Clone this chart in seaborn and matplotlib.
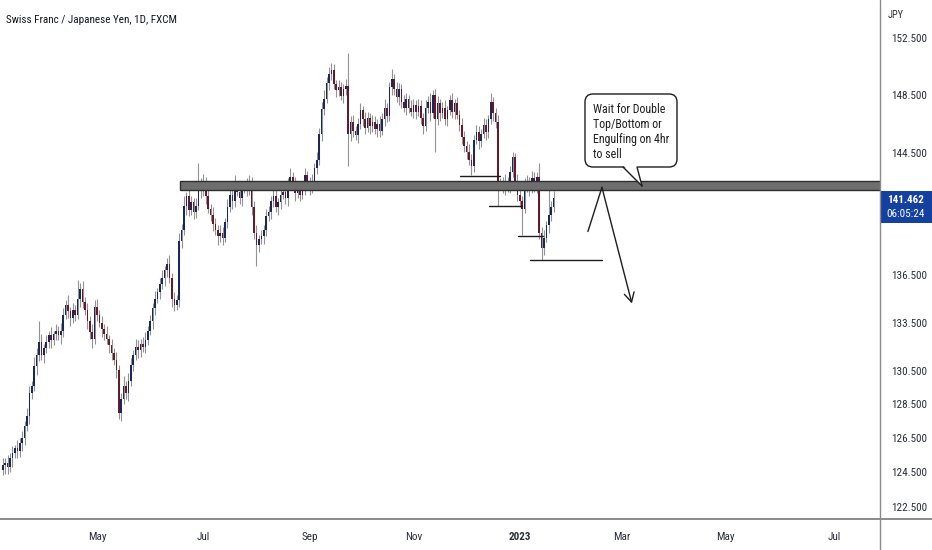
import numpy as np
import pandas as pd
import matplotlib
matplotlib.use("Agg")
import matplotlib.pyplot as plt
import seaborn as sns
from matplotlib.patches import Rectangle, FancyBboxPatch, Polygon
from matplotlib.lines import Line2D
from matplotlib.ticker import FixedLocator, FixedFormatter, NullLocator

# ---------------- data (CHF/JPY daily) ----------------
start_date = "2022-03-08"
first_open = 124.6

close_mar = [124.9, 125.0, 124.8, 125.3, 125.6, 125.9, 125.7, 126.2, 126.5, 127.2, 127.8, 129.2,
             129.6, 130.8, 131.5, 132.3, 131.5, 131.9]
close_apr = [132.3, 132.7, 132.4, 132.8, 133.0, 132.7, 133.0, 134.0, 134.6, 134.2, 133.8, 134.3,
             134.0, 135.0, 135.6, 134.8, 134.3, 133.6, 132.9, 132.5, 134.5]
close_may = [134.0, 133.5, 133.1, 132.8, 132.5, 132.1, 131.6, 131.2, 130.6, 128.0, 128.8, 129.6,
             129.2, 129.9, 130.9, 131.5, 132.0, 131.8, 132.2, 132.0, 132.4, 133.0]
close_jun = [133.6, 134.4, 135.0, 135.4, 135.9, 136.3, 136.8, 137.2, 136.3, 135.0, 134.6, 134.9,
             138.7, 139.4, 141.0, 141.6, 140.7, 141.2, 140.6, 141.0, 142.4, 142.0]
close_jul = [142.6, 141.6, 140.8, 140.4, 139.8, 139.4, 139.0, 139.2, 138.9, 139.9, 140.9, 141.7,
             141.3, 142.3, 141.9, 141.5, 142.1, 142.3, 142.0, 142.6, 140.9]
close_aug = [139.2, 138.4, 138.8, 139.0, 139.4, 140.3, 140.6, 141.3, 141.6, 140.9, 141.2, 141.7,
             141.9, 141.5, 142.3, 142.9, 142.5, 141.8, 142.1, 141.7, 142.2, 143.0, 142.5]
close_sep = [142.1, 142.6, 143.5, 144.0, 145.8, 147.5, 148.2, 149.3, 149.9, 150.2, 149.2, 148.8,
             149.0, 148.4, 148.9, 149.1, 145.8, 146.6, 146.0, 145.7, 146.5, 147.4]
close_oct = [146.8, 146.2, 146.9, 146.3, 146.6, 146.1, 146.5, 146.0, 146.8, 147.6, 147.0, 149.0,
             149.6, 148.9, 148.3, 148.9, 148.0, 147.6, 148.2, 147.6, 147.3]
close_nov = [147.8, 147.3, 147.7, 146.9, 146.3, 147.6, 148.0, 147.2, 148.5, 146.8, 147.9, 147.2,
             147.6, 146.8, 147.4, 148.1, 147.3, 147.9, 147.1, 146.4, 145.6, 145.0]
close_dec = [144.6, 144.0, 143.6, 145.4, 145.9, 145.3, 145.8, 146.4, 145.9, 146.8, 148.0, 147.2,
             146.6, 142.4, 142.5, 142.2, 142.6, 142.2, 143.2, 144.2, 142.6, 141.7]
close_jan = [141.3, 140.8, 142.3, 142.6, 142.1, 142.8, 142.3, 142.9, 139.2, 138.2, 138.9, 139.7,
             140.4, 140.9, 141.462]

wick_up_mar = [0.4, 0.3, 0.5, 0.3, 0.4, 0.2, 0.5, 0.3, 0.4, 0.3, 0.5, 0.4, 0.3, 0.6, 0.4, 1.3, 0.5, 0.3]
wick_up_apr = [0.4, 0.3, 0.5, 0.2, 0.4, 0.3, 0.5, 0.4, 0.3, 0.6, 0.3, 0.4, 0.3, 1.2, 0.4, 0.5, 0.3,
               0.4, 0.3, 0.5, 0.4]
wick_up_may = [0.5, 0.3, 0.4, 0.3, 0.5, 0.2, 0.4, 0.3, 0.5, 0.3, 0.4, 0.6, 0.3, 0.5, 0.4, 0.3, 0.5,
               0.4, 0.3, 0.4, 0.5, 0.3]
wick_up_jun = [0.4, 0.3, 0.5, 0.3, 0.4, 0.5, 0.3, 0.4, 0.6, 0.3, 0.4, 0.3, 0.5, 0.4, 0.6, 0.3, 0.5,
               0.4, 0.3, 0.5, 1.4, 0.4]
wick_up_jul = [0.5, 0.3, 0.4, 0.3, 0.5, 0.4, 0.3, 0.5, 0.4, 0.3, 0.5, 0.4, 0.6, 0.7, 0.3, 0.5, 0.4,
               0.3, 0.5, 0.4, 0.3]
wick_up_aug = [0.4, 0.5, 0.3, 0.4, 0.3, 0.5, 0.4, 0.3, 0.6, 0.4, 0.3, 0.5, 0.4, 0.3, 0.5, 0.6, 0.3,
               0.4, 0.5, 0.3, 0.4, 0.5, 0.3]
wick_up_sep = [0.4, 0.5, 0.3, 0.6, 0.4, 0.5, 0.6, 0.4, 0.5, 0.5, 0.4, 0.3, 0.5, 0.4, 0.3, 0.5, 2.3,
               0.4, 0.5, 0.3, 0.4, 0.5]
wick_up_oct = [0.3, 0.5, 0.4, 0.3, 0.5, 0.4, 0.3, 0.5, 0.4, 0.6, 0.3, 0.4, 0.7, 0.3, 0.5, 0.4, 0.3,
               0.5, 0.4, 0.3, 0.5]
wick_up_nov = [0.4, 0.3, 0.5, 0.4, 0.3, 0.5, 0.4, 0.6, 0.3, 0.4, 0.5, 0.3, 0.4, 0.5, 0.3, 0.4, 0.5,
               0.3, 0.4, 0.3, 0.5, 0.4]
wick_up_dec = [0.3, 0.5, 0.4, 0.3, 0.5, 0.4, 0.3, 0.5, 0.4, 0.3, 0.6, 0.3, 0.4, 0.5, 0.3, 0.4, 0.5,
               0.3, 0.4, 0.4, 0.3, 0.5]
wick_up_jan = [0.4, 0.3, 0.5, 0.4, 0.3, 0.5, 0.4, 0.3, 0.9, 0.4, 0.5, 0.3, 1.8, 0.4, 0.5]

wick_dn_mar = [0.3, 0.5, 0.4, 0.3, 0.5, 0.3, 0.4, 0.3, 0.5, 0.4, 0.3, 0.5, 0.4, 0.3, 0.5, 0.4, 0.3, 0.5]
wick_dn_apr = [0.3, 0.4, 0.5, 0.3, 0.4, 0.3, 0.5, 0.4, 0.3, 0.4, 0.5, 0.3, 0.4, 0.3, 0.5, 0.4, 0.3,
               0.5, 0.4, 0.6, 0.3]
wick_dn_may = [0.4, 0.3, 0.5, 0.4, 0.3, 0.5, 0.4, 0.3, 0.5, 0.4, 0.5, 0.3, 0.4, 0.5, 0.3, 0.4, 0.3,
               0.5, 0.4, 0.3, 0.4, 0.3]
wick_dn_jun = [0.3, 0.5, 0.4, 0.3, 0.4, 0.3, 0.5, 0.4, 0.3, 0.5, 0.4, 0.3, 0.4, 0.5, 0.3, 0.6, 0.4,
               0.3, 0.5, 0.4, 0.3, 0.5]
wick_dn_jul = [0.4, 0.5, 0.3, 0.4, 0.5, 0.3, 0.6, 0.4, 0.5, 0.3, 0.4, 0.3, 0.5, 0.4, 0.3, 0.4, 0.5,
               0.3, 0.4, 0.3, 0.5]
wick_dn_aug = [0.4, 1.3, 0.4, 0.3, 0.5, 0.4, 0.3, 0.5, 0.4, 0.3, 0.5, 0.4, 0.3, 0.4, 0.5, 0.3, 0.4,
               0.5, 0.3, 0.4, 0.3, 0.5, 0.4]
wick_dn_sep = [0.4, 0.3, 0.5, 0.4, 0.3, 0.5, 0.4, 0.3, 0.5, 0.4, 0.3, 0.5, 0.4, 0.3, 0.5, 0.4, 2.2,
               0.5, 0.4, 0.3, 0.5, 0.4]
wick_dn_oct = [0.5, 0.4, 0.3, 0.5, 0.4, 0.3, 0.5, 0.4, 0.3, 0.5, 0.4, 0.3, 0.5, 0.4, 0.3, 0.5, 0.4,
               0.3, 0.5, 0.4, 0.3]
wick_dn_nov = [0.4, 0.5, 0.3, 0.4, 0.5, 0.3, 0.4, 0.5, 0.3, 2.2, 0.4, 0.5, 0.3, 0.4, 0.5, 0.3, 0.4,
               0.5, 0.3, 0.4, 0.5, 0.4]
wick_dn_dec = [0.5, 0.3, 0.6, 0.4, 0.3, 0.5, 0.4, 0.3, 0.5, 0.4, 0.3, 0.5, 0.4, 1.4, 0.3, 0.4, 0.5,
               0.3, 0.4, 0.3, 0.5, 0.4]
wick_dn_jan = [0.4, 1.7, 0.3, 0.4, 0.5, 0.3, 0.4, 0.5, 0.4, 0.75, 0.4, 0.3, 0.5, 0.4, 0.3]

price_ticks = [152.5, 148.5, 144.5, 136.5, 133.5, 130.5, 128.5, 126.5, 124.5, 122.5]
month_dates = ["2022-05-02", "2022-07-01", "2022-09-01", "2022-11-01", "2023-01-02",
               "2023-03-01", "2023-05-01", "2023-07-03"]
month_labels = ["May", "Jul", "Sep", "Nov", "2023", "Mar", "May", "Jul"]
last_price = 141.462
countdown = "06:05:24"
title = "Swiss Franc / Japanese Yen, 1D, FXCM"
currency = "JPY"
note = "Wait for Double\nTop/Bottom or\nEngulfing on 4hr\nto sell"

# zone and drawn levels (price, bar index start, bar index end)
zone_low, zone_high = 142.03, 142.65
level_prices = [142.96, 141.0, 139.0, 137.45]
level_start = [189.2, 201.2, 213.2, 218.2]
level_end = [205.8, 214.9, 223.6, 248.0]
arrow_bars = [242.2, 248.0, 260.4]
arrow_prices = [139.3, 142.2, 134.7]

# ---------------- assemble ----------------
closes = (close_mar + close_apr + close_may + close_jun + close_jul + close_aug + close_sep
          + close_oct + close_nov + close_dec + close_jan)
wick_up = (wick_up_mar + wick_up_apr + wick_up_may + wick_up_jun + wick_up_jul + wick_up_aug
           + wick_up_sep + wick_up_oct + wick_up_nov + wick_up_dec + wick_up_jan)
wick_dn = (wick_dn_mar + wick_dn_apr + wick_dn_may + wick_dn_jun + wick_dn_jul + wick_dn_aug
           + wick_dn_sep + wick_dn_oct + wick_dn_nov + wick_dn_dec + wick_dn_jan)
assert len(closes) == len(wick_up) == len(wick_dn) == 229

dates = pd.bdate_range(start_date, periods=len(closes))
df = pd.DataFrame({"date": dates, "close": closes})
df["open"] = [first_open] + closes[:-1]
df["high"] = np.maximum(df["open"], df["close"]) + np.array(wick_up)
df["low"] = np.minimum(df["open"], df["close"]) - np.array(wick_dn)
df["bar"] = np.arange(len(df))
df["up"] = df["close"] >= df["open"]

all_days = pd.bdate_range(start_date, "2023-12-31")
pos = {d: i for i, d in enumerate(all_days)}
month_pos = [pos[pd.Timestamp(d)] for d in month_dates]

# ---------------- style ----------------
sns.set_theme(style="white")
FAM = ["Liberation Sans Narrow", "DejaVu Sans Condensed", "Roboto Condensed", "Lato", "DejaVu Sans"]
plt.rcParams["font.family"] = FAM

W, H = 932, 550
fig = plt.figure(figsize=(W / 100, H / 100), dpi=100, facecolor="white")
ax = fig.add_axes([0, 31 / H, 880 / W, 519 / H])
ax.set_facecolor("white")

UP = "#1a2858"
DN = "#641a2a"
WICK = "#929292"

ax.vlines(df["bar"], df["low"], df["high"], colors=WICK, linewidth=0.8, zorder=2)
body_bottom = np.minimum(df["open"], df["close"])
body_height = np.abs(df["close"] - df["open"])
ax.bar(df["bar"], body_height, bottom=body_bottom, width=0.66,
       color=np.where(df["up"], UP, DN), linewidth=0, zorder=3)

ax.set_yscale("log")
ax.set_ylim(121.8, 155.2)
ax.set_xlim(-1.16, 363.1)

# zone
ax.add_patch(Rectangle((73.3, zone_low), 400, zone_high - zone_low, facecolor="#6e6e6e",
                       edgecolor="#2e2e2e", linewidth=1.0, zorder=4))

# levels
for p, a, b in zip(level_prices, level_start, level_end):
    sns.lineplot(x=[a, b], y=[p, p], ax=ax, color="#1e1e1e", linewidth=1.0, zorder=5)

# arrow path
ax.plot(arrow_bars[:2], arrow_prices[:2], color="#1e1e1e", linewidth=1.0, zorder=5)
ax.annotate("", xy=(arrow_bars[2], arrow_prices[2]), xytext=(arrow_bars[1], arrow_prices[1]),
            arrowprops=dict(arrowstyle="->,head_length=0.55,head_width=0.3", color="#1e1e1e",
                            lw=1.0, shrinkA=0, shrinkB=0), zorder=5)

# axes ticks
ax.yaxis.tick_right()
ax.yaxis.set_major_locator(FixedLocator(price_ticks))
ax.yaxis.set_major_formatter(FixedFormatter([f"{p:.3f}" for p in price_ticks]))
ax.yaxis.set_minor_locator(NullLocator())
ax.tick_params(axis="y", length=0, pad=8, labelsize=8, labelcolor="#2a2e39")
ax.xaxis.set_major_locator(FixedLocator(month_pos))
ax.xaxis.set_major_formatter(FixedFormatter(month_labels))
ax.xaxis.set_minor_locator(NullLocator())
ax.tick_params(axis="x", length=0, pad=9, labelsize=8, labelcolor="#2a2e39")
for lab in ax.get_xticklabels():
    if lab.get_text() == "2023":
        lab.set_fontweight("bold")
for s in ax.spines.values():
    s.set_visible(False)
ax.grid(False)

# frame lines (price scale and time scale separators)
fig.add_artist(Line2D([0, 1], [31 / H, 31 / H], transform=fig.transFigure, color="#8a8a8a", lw=1.4))
fig.add_artist(Line2D([880 / W, 880 / W], [0, 1], transform=fig.transFigure, color="#8a8a8a", lw=1.0))

# title & currency
fig.text(6 / W, 1 - 20 / H, title, fontsize=8, color="#131722", va="center", ha="left")
fig.text(888 / W, 1 - 15 / H, currency, fontsize=7.5, color="#2a2e39", va="center", ha="left")

# last-price label
fig.add_artist(Rectangle((881 / W, 1 - 223 / H), 51 / W, 32 / H, transform=fig.transFigure,
                         facecolor="#1440a0", edgecolor="none"))
fig.text(906 / W, 1 - 199.5 / H, f"{last_price:.3f}", fontsize=8, color="white", ha="center",
         va="center", fontweight="bold")
fig.text(906 / W, 1 - 214 / H, countdown, fontsize=8, color="white", ha="center", va="center")

# callout
tr = fig.dpi_scale_trans
fig.add_artist(FancyBboxPatch((5.85, (H - 167) / 100), 0.92, 0.73,
                              boxstyle="round,pad=0,rounding_size=0.08", transform=tr,
                              facecolor="white", edgecolor="#1e1e1e", linewidth=1.0, zorder=6))
fig.add_artist(Polygon([(6.23, (H - 165) / 100), (6.42, (H - 186) / 100), (6.37, (H - 165) / 100)],
                       closed=True, transform=tr, facecolor="white", edgecolor="none", zorder=7))
fig.add_artist(Line2D([6.23, 6.42], [(H - 167) / 100, (H - 186) / 100], transform=tr,
                      color="#1e1e1e", lw=1.0, zorder=8))
fig.add_artist(Line2D([6.37, 6.42], [(H - 167) / 100, (H - 186) / 100], transform=tr,
                      color="#1e1e1e", lw=1.0, zorder=8))
fig.text(5.93 / (W / 100), (H - 103) / H, note, fontsize=8.6, color="#1e1e1e", ha="left", va="top",
         linespacing=1.2, zorder=9)

fig.savefig("out.png", dpi=100, facecolor="white")
